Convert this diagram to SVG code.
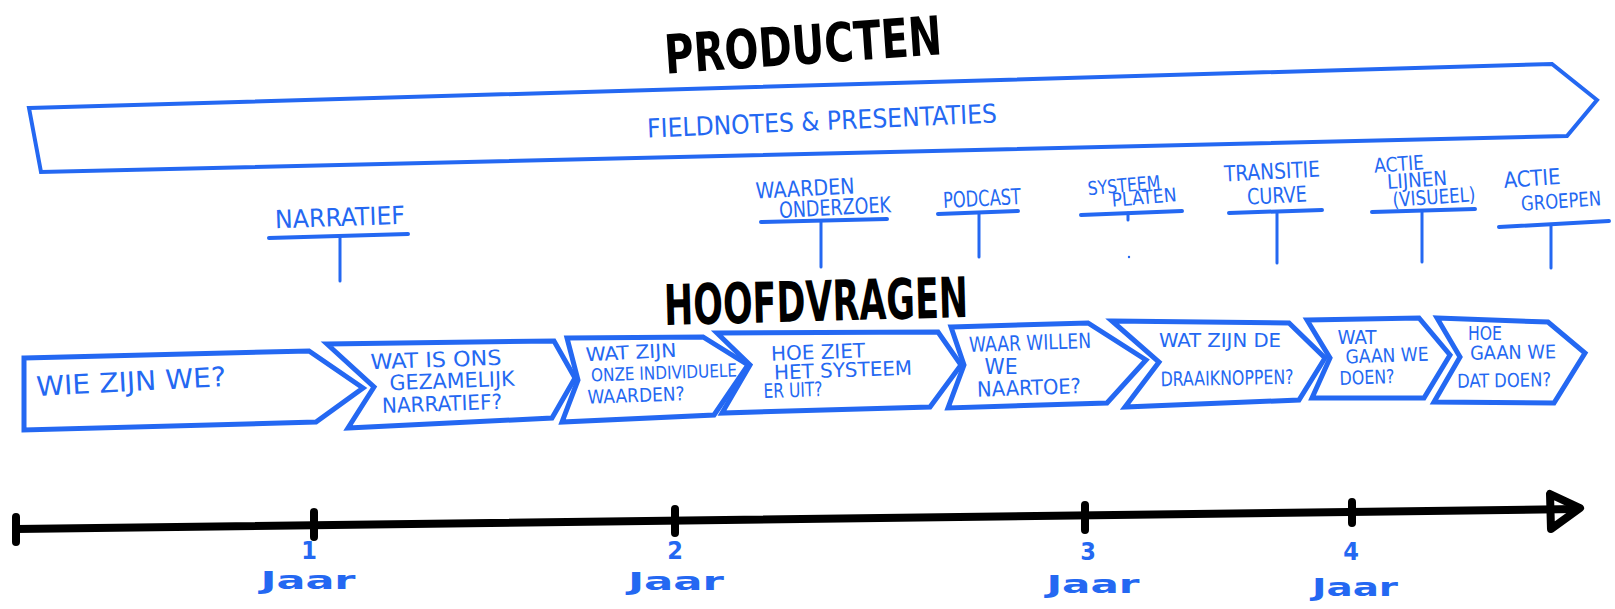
<svg xmlns="http://www.w3.org/2000/svg" width="1615" height="609" viewBox="0 0 1615 609">
<style>
.b{fill:none;stroke:#2468F2;stroke-width:5;stroke-linejoin:miter;stroke-linecap:round}
.u{fill:none;stroke:#2468F2;stroke-width:4;stroke-linecap:round}
.s{fill:none;stroke:#2468F2;stroke-width:3;stroke-linecap:round}
.t{fill:#2468F2;font-family:"DejaVu Sans Condensed","DejaVu Sans",sans-serif;text-anchor:middle}
.h{fill:#000;font-family:"DejaVu Sans Condensed","DejaVu Sans",sans-serif;font-weight:bold;text-anchor:middle}
.n{fill:#2468F2;font-family:"DejaVu Sans Condensed","DejaVu Sans",sans-serif;font-weight:bold;text-anchor:middle}
.tl{stroke:#000;stroke-width:8;stroke-linecap:round;stroke-linejoin:round;fill:none}
</style>
<rect width="1615" height="609" fill="#fff"/>

<g id="title-producten">
<text class="h" x="803" y="64" font-size="54" textLength="278" lengthAdjust="spacingAndGlyphs" transform="rotate(-4 803 44)">PRODUCTEN</text>
</g>

<g id="fieldnotes">
<polygon class="u" points="29,108 1552,64 1597,100 1567,136 41,172"/>
<text class="t" x="822" y="130" font-size="26" textLength="350" lengthAdjust="spacingAndGlyphs" transform="rotate(-2.5 822 120)">FIELDNOTES &amp; PRESENTATIES</text>
</g>

<g id="p-narratief">
<text class="t" x="340" y="226" font-size="25" textLength="130" lengthAdjust="spacingAndGlyphs" transform="rotate(-2 340 218)">NARRATIEF</text>
<path class="u" d="M269,238 L408,234"/>
<path class="s" d="M340,237 L340,281"/>
</g>

<g id="p-waardenonderzoek">
<text class="t" x="805" y="196" font-size="22" textLength="99" lengthAdjust="spacingAndGlyphs" transform="rotate(-3 805 189)">WAARDEN</text>
<text class="t" x="835" y="215" font-size="22" textLength="112" lengthAdjust="spacingAndGlyphs" transform="rotate(-3 835 208)">ONDERZOEK</text>
<path class="u" d="M761,222 L887,219"/>
<path class="s" d="M821,221 L821,267"/>
</g>

<g id="p-podcast">
<text class="t" x="982" y="206" font-size="22" textLength="78" lengthAdjust="spacingAndGlyphs" transform="rotate(-3 982 199)">PODCAST</text>
<path class="u" d="M938,214 L1018,211"/>
<path class="s" d="M979,213 L979,257"/>
</g>

<g id="p-systeemplaten">
<text class="t" x="1124" y="192" font-size="19" textLength="73" lengthAdjust="spacingAndGlyphs" transform="rotate(-5 1124 186)">SYSTEEM</text>
<text class="t" x="1144" y="204" font-size="19" textLength="65" lengthAdjust="spacingAndGlyphs" transform="rotate(-5 1144 197)">PLATEN</text>
<path class="u" d="M1081,215 L1182,211"/>
<path class="s" d="M1128,213 L1128,220"/>
<circle cx="1129" cy="257" r="1.2" fill="#2468F2"/>
</g>

<g id="p-transitiecurve">
<text class="t" x="1272" y="179" font-size="22" textLength="96" lengthAdjust="spacingAndGlyphs" transform="rotate(-3 1272 172)">TRANSITIE</text>
<text class="t" x="1277" y="203" font-size="22" textLength="60" lengthAdjust="spacingAndGlyphs" transform="rotate(-3 1277 196)">CURVE</text>
<path class="u" d="M1229,213 L1322,210"/>
<path class="s" d="M1277,212 L1277,263"/>
</g>

<g id="p-actielijnen">
<text class="t" x="1399" y="171" font-size="20" textLength="50" lengthAdjust="spacingAndGlyphs" transform="rotate(-4 1399 164)">ACTIE</text>
<text class="t" x="1417" y="187" font-size="20" textLength="60" lengthAdjust="spacingAndGlyphs" transform="rotate(-4 1417 180)">LIJNEN</text>
<text class="t" x="1434" y="204" font-size="20" textLength="83" lengthAdjust="spacingAndGlyphs" transform="rotate(-4 1434 197)">(VISUEEL)</text>
<path class="u" d="M1372,212 L1475,209"/>
<path class="s" d="M1422,211 L1422,262"/>
</g>

<g id="p-actiegroepen">
<text class="t" x="1532" y="186" font-size="22" textLength="57" lengthAdjust="spacingAndGlyphs" transform="rotate(-4 1532 178)">ACTIE</text>
<text class="t" x="1561" y="208" font-size="20" textLength="80" lengthAdjust="spacingAndGlyphs" transform="rotate(-4 1561 201)">GROEPEN</text>
<path class="u" d="M1499,227 L1609,221"/>
<path class="s" d="M1551,225 L1551,268"/>
</g>

<g id="title-hoofdvragen">
<text class="h" x="816" y="321" font-size="56" textLength="304" lengthAdjust="spacingAndGlyphs" transform="rotate(-1.5 816 300)">HOOFDVRAGEN</text>
</g>

<g id="q1">
<polygon class="b" points="24,358 309,351 363,388 316,422 24,430"/>
<text class="t" x="131" y="391" font-size="27" textLength="190" lengthAdjust="spacingAndGlyphs" transform="rotate(-3 131 381)">WIE ZIJN WE?</text>
</g>

<g id="q2">
<polygon class="b" points="327,344 554,341 575,378 552,418 348,428 374,387"/>
<text class="t" x="436" y="367" font-size="21" textLength="131" lengthAdjust="spacingAndGlyphs" transform="rotate(-2 436 360)">WAT IS ONS</text>
<text class="t" x="452" y="388" font-size="21" textLength="125" lengthAdjust="spacingAndGlyphs" transform="rotate(-2 452 380)">GEZAMELIJK</text>
<text class="t" x="442" y="411" font-size="21" textLength="120" lengthAdjust="spacingAndGlyphs" transform="rotate(-2 442 403)">NARRATIEF?</text>
</g>

<g id="q3">
<polygon class="b" points="567,338 703,337 748,365 714,415 562,422 578,380"/>
<text class="t" x="631" y="359" font-size="19" textLength="91" lengthAdjust="spacingAndGlyphs" transform="rotate(-3 631 353)">WAT ZIJN</text>
<text class="t" x="664" y="379" font-size="18" textLength="146" lengthAdjust="spacingAndGlyphs" transform="rotate(-2 664 373)">ONZE INDIVIDUELE</text>
<text class="t" x="636" y="402" font-size="19" textLength="97" lengthAdjust="spacingAndGlyphs" transform="rotate(-2 636 395)">WAARDEN?</text>
</g>

<g id="q4">
<polygon class="b" points="717,333 938,332 961,365 930,407 722,413 750,365"/>
<text class="t" x="818" y="359" font-size="20" textLength="94" lengthAdjust="spacingAndGlyphs" transform="rotate(-2 818 352)">HOE ZIET</text>
<text class="t" x="843" y="377" font-size="20" textLength="138" lengthAdjust="spacingAndGlyphs" transform="rotate(-2 843 370)">HET SYSTEEM</text>
<text class="t" x="793" y="397" font-size="20" textLength="59" lengthAdjust="spacingAndGlyphs" transform="rotate(-2 793 390)">ER UIT?</text>
</g>

<g id="q5">
<polygon class="b" points="951,327 1088,323 1146,360 1107,403 948,408 964,365"/>
<text class="t" x="1030" y="350" font-size="21" textLength="122" lengthAdjust="spacingAndGlyphs" transform="rotate(-2 1030 343)">WAAR WILLEN</text>
<text class="t" x="1001" y="374" font-size="21" textLength="33" lengthAdjust="spacingAndGlyphs">WE</text>
<text class="t" x="1029" y="395" font-size="21" textLength="104" lengthAdjust="spacingAndGlyphs" transform="rotate(-2 1029 387)">NAARTOE?</text>
</g>

<g id="q6">
<polygon class="b" points="1112,321 1289,323 1325,358 1299,400 1125,407 1159,362"/>
<text class="t" x="1220" y="347" font-size="20" textLength="122" lengthAdjust="spacingAndGlyphs">WAT ZIJN DE</text>
<text class="t" x="1227" y="385" font-size="20" textLength="133" lengthAdjust="spacingAndGlyphs" transform="rotate(-1 1227 378)">DRAAIKNOPPEN?</text>
</g>

<g id="q7">
<polygon class="b" points="1307,320 1419,318 1450,355 1424,398 1312,398 1330,358"/>
<text class="t" x="1357" y="344" font-size="19" textLength="39" lengthAdjust="spacingAndGlyphs">WAT</text>
<text class="t" x="1387" y="362" font-size="19" textLength="83" lengthAdjust="spacingAndGlyphs" transform="rotate(-2 1387 355)">GAAN WE</text>
<text class="t" x="1367" y="384" font-size="19" textLength="55" lengthAdjust="spacingAndGlyphs" transform="rotate(-2 1367 377)">DOEN?</text>
</g>

<g id="q8">
<polygon class="b" points="1437,318 1548,322 1585,353 1554,403 1434,402 1460,357"/>
<text class="t" x="1485" y="340" font-size="19" textLength="34" lengthAdjust="spacingAndGlyphs">HOE</text>
<text class="t" x="1513" y="359" font-size="19" textLength="86" lengthAdjust="spacingAndGlyphs" transform="rotate(-1 1513 352)">GAAN WE</text>
<text class="t" x="1504" y="387" font-size="19" textLength="94" lengthAdjust="spacingAndGlyphs" transform="rotate(-1 1504 380)">DAT DOEN?</text>
</g>

<g id="timeline">
<path class="tl" d="M16,529 L1576,509"/>
<path class="tl" d="M16,517 L16,542 M314,512 L314,537 M675,509 L675,533 M1085,505 L1085,530 M1352,502 L1352,523"/>
<path class="tl" stroke-width="7" d="M1550,494 L1551,529 L1580,508 Z"/>
<text class="n" x="309" y="559" font-size="25">1</text>
<text class="n" x="308" y="589" font-size="25" textLength="95" lengthAdjust="spacingAndGlyphs">Jaar</text>
<text class="n" x="675" y="559" font-size="25">2</text>
<text class="n" x="676" y="590" font-size="25" textLength="96" lengthAdjust="spacingAndGlyphs">Jaar</text>
<text class="n" x="1088" y="560" font-size="25">3</text>
<text class="n" x="1093" y="593" font-size="25" textLength="93" lengthAdjust="spacingAndGlyphs">Jaar</text>
<text class="n" x="1351" y="560" font-size="25">4</text>
<text class="n" x="1355" y="596" font-size="25" textLength="86" lengthAdjust="spacingAndGlyphs">Jaar</text>
</g>
</svg>
